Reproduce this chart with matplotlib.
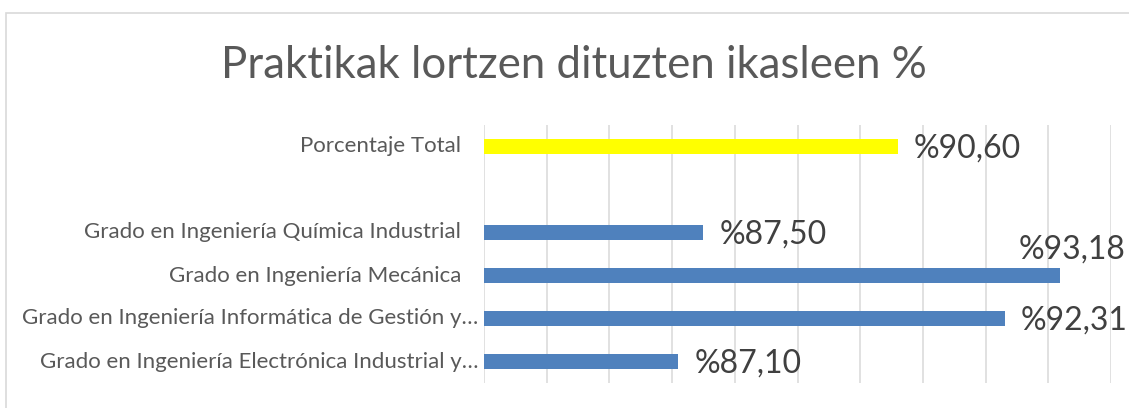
import matplotlib.pyplot as plt
import matplotlib.patches as patches

categories = [
    "Grado en Ingeniería Electrónica Industrial y…",
    "Grado en Ingeniería Informática de Gestión y…",
    "Grado en Ingeniería Mecánica",
    "Grado en Ingeniería Química Industrial",
    "",
    "Porcentaje Total",
]
values = [87.10, 92.31, 93.18, 87.50, None, 90.60]
bar_colors = ["#4f81bd", "#4f81bd", "#4f81bd", "#4f81bd", "none", "#ffff00"]
truncated = [True, True, False, False, False, False]

x_min, x_max = 84, 94

fig = plt.figure(figsize=(11.29, 4.08), dpi=100)
fig.patch.set_facecolor("white")

# chart border (Excel chart area)
fig.add_artist(patches.Rectangle((6 / 1129, -0.1), 1.2, 1 - 13 / 408 + 0.1,
                                 transform=fig.transFigure, fill=False,
                                 edgecolor="#d9d9d9", linewidth=1.2))

ax = fig.add_axes([484 / 1129, 25 / 408, (1111 - 484) / 1129, (383 - 125) / 408])
ax.set_xlim(x_min, x_max)
ax.set_ylim(-0.5, len(categories) - 0.5)

for x in range(x_min, x_max + 1):
    ax.axvline(x, color="#d9d9d9", linewidth=1.1, zorder=0)

for i, (v, c) in enumerate(zip(values, bar_colors)):
    if v is None:
        continue
    ax.barh(i, v - x_min, left=x_min, height=0.34, color=c, zorder=2)
    label = "%" + f"{v:.2f}".replace(".", ",")
    if v > 93:
        # label sits above the bar when it would overflow
        ax.annotate(label, (v, i), xytext=(-41, 26), textcoords="offset pixels",
                    ha="left", va="center", fontsize=23, color="#404040",
                    family="Lato", annotation_clip=False)
    else:
        ax.annotate(label, (v, i), xytext=(16, -2), textcoords="offset pixels",
                    ha="left", va="center", fontsize=23, color="#404040",
                    family="Lato", annotation_clip=False)

for i, name in enumerate(categories):
    off = -6 if truncated[i] else -23
    ax.annotate(name, (x_min, i), xytext=(off, 0), textcoords="offset pixels",
                ha="right", va="center", fontsize=16, color="#595959",
                family="Lato", annotation_clip=False)

ax.set_xticks([])
ax.set_yticks([])
for s in ax.spines.values():
    s.set_visible(False)

fig.text(574 / 1129, 1 - 66 / 408, "Praktikak lortzen dituzten ikasleen %",
         ha="center", va="center", fontsize=31.5, color="#595959", family="Lato")

fig.savefig("out.png", dpi=100)
